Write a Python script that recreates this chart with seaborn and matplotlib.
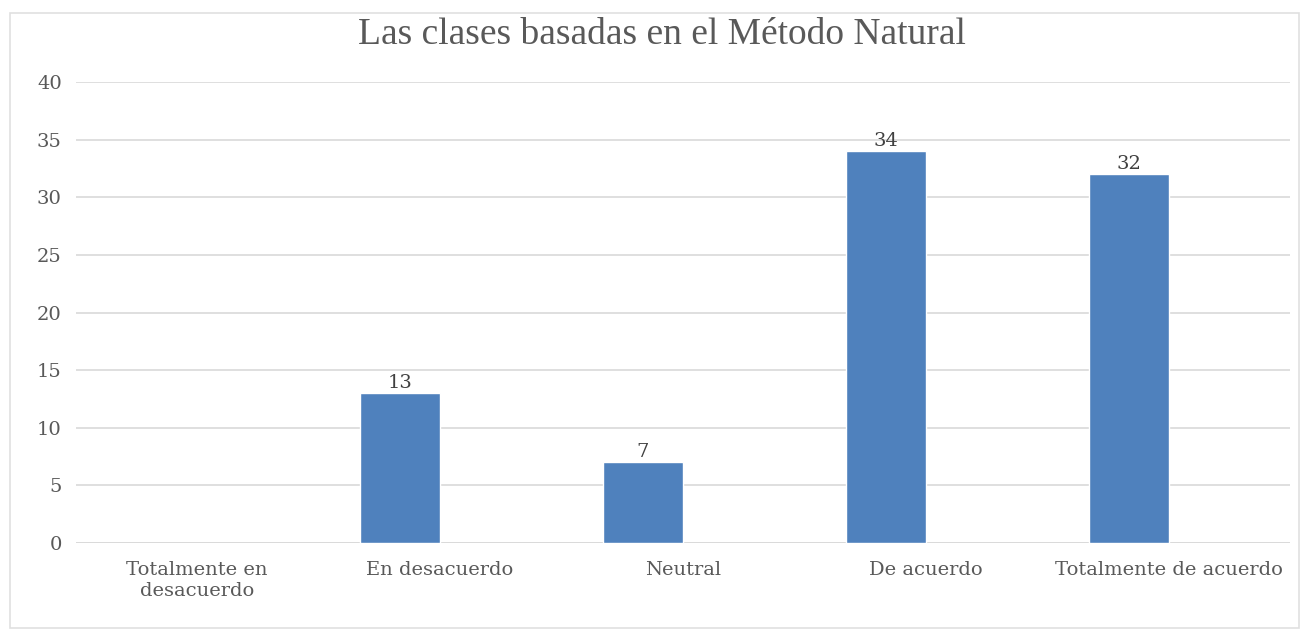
import pandas as pd
import numpy as np
import seaborn as sns
import matplotlib.pyplot as plt
from matplotlib.patches import Rectangle

categorias = ["Totalmente en\ndesacuerdo", "En desacuerdo", "Neutral", "De acuerdo", "Totalmente de acuerdo"]
serie1 = [np.nan, 13, 7, 34, 32]
serie2 = [np.nan, np.nan, np.nan, np.nan, np.nan]  # serie vacia, deja el hueco a la derecha
y_ticks = [0, 5, 10, 15, 20, 25, 30, 35, 40]

df = pd.DataFrame({
    "Categoria": categorias * 2,
    "Serie": ["Serie 1"] * 5 + ["Serie 2"] * 5,
    "Valor": serie1 + serie2,
})

sns.set_style("white")
plt.rcParams["font.family"] = ["DejaVu Serif"]

fig = plt.figure(figsize=(13.06, 6.31), dpi=100)
ax = fig.add_axes([0.058, 0.1395, 0.93, 0.7305])

sns.barplot(data=df, x="Categoria", y="Valor", hue="Serie", order=categorias,
            palette=["#4F81BD", "#C0504D"], saturation=1, width=0.66,
            legend=False, ax=ax, zorder=3)

# etiquetas de valor
for cont in ax.containers[:1]:
    labels = ["" if np.isnan(v) else f"{v:.0f}" for v in cont.datavalues]
    ax.bar_label(cont, labels=labels, padding=1, fontsize=14, color="#404040")

ax.set_ylim(0, 40)
ax.set_xlim(-0.5, 4.5)
ax.set_yticks(y_ticks)
ax.yaxis.grid(True, color="#d9d9d9", linewidth=1.2, zorder=0)
ax.axhline(0, color="#d9d9d9", linewidth=1.2, zorder=1)
for s in ax.spines.values():
    s.set_visible(False)
ax.tick_params(axis="y", length=0, labelsize=14, labelcolor="#595959", pad=10)
ax.tick_params(axis="x", length=0, labelsize=14, labelcolor="#595959", pad=13)
ax.set_xlabel("")
ax.set_ylabel("")

fig.text(0.507, 0.945, "Las clases basadas en el Método Natural", ha="center", va="center",
         fontsize=27, color="#595959", family="Liberation Serif")

fig.patches.append(Rectangle((0.008, 0.005), 0.987, 0.975, transform=fig.transFigure,
                             fill=False, edgecolor="#e0e0e0", linewidth=1.2))

fig.savefig("out.png", dpi=100)
